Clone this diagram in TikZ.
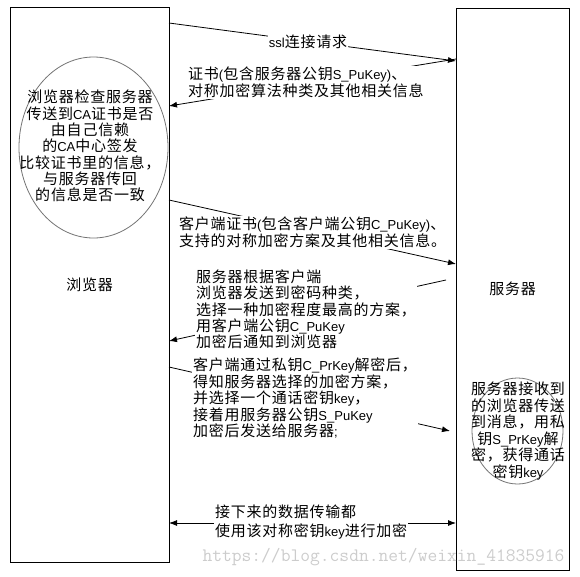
\documentclass[tikz,border=0pt]{standalone}
\usepackage{fontspec}
\setmainfont{Noto Sans CJK SC}[LetterSpace=5]
\newfontfamily\latf{Liberation Sans}
\newcommand\mylat[1]{{\latf\fontsize{13}{16}\selectfont #1}}
\usetikzlibrary{arrows.meta,shapes.geometric}
\definecolor{ovalgray}{RGB}{115,115,115}
\begin{document}
\begin{tikzpicture}[x=1pt,y=-1pt,
  box/.style={draw=black,line width=0.8pt,outer sep=0pt,inner sep=0pt,font=\fontsize{15}{16}\selectfont},
  oval/.style={draw=ovalgray,line width=0.8pt,ellipse,inner sep=0pt,outer sep=0pt},
  txt/.style={font=\fontsize{15}{16.3}\selectfont,inner sep=1pt,fill=white,align=left},
  ctxt/.style={font=\fontsize{15}{16.3}\selectfont,inner sep=0pt,align=center},
  arr/.style={line width=0.8pt,-{Latex[length=8pt,width=6pt]}},
  darr/.style={line width=0.8pt,{Latex[length=8pt,width=6pt]}-{Latex[length=8pt,width=6pt]}},
  wm/.style={text=gray!40,font=\ttfamily\fontsize{19}{19}\selectfont,inner sep=0pt}]
\useasboundingbox (0,0) rectangle (580,576);

% boxes
\node[box,minimum width=159pt,minimum height=555pt] (browser) at (89.5,284.5) {浏览器};
\node[box,minimum width=113pt,minimum height=562pt] (server) at (512.5,289) {服务器};

% ellipses
\node[oval,minimum width=149pt,minimum height=181pt] (lov) at (93.5,147.5) {};
\node[oval,minimum width=91pt,minimum height=106pt] (rov) at (517.5,431) {};

% connector end points
\coordinate (a1) at (browser.east |- 0,23);
\coordinate (b1) at (server.west |- 0,61);
\coordinate (a2) at (server.west |- 0,59);
\coordinate (b2) at (browser.east |- 0,106);
\coordinate (a3) at (browser.east |- 0,200);
\coordinate (b3) at (server.west |- 0,264);
\coordinate (a4) at (446,280);
\coordinate (b4) at (browser.east |- 0,341);
\coordinate (a5) at (browser.east |- 0,367);
\coordinate (b5) at (450,431);
\coordinate (a6) at (browser.east |- 0,523);
\coordinate (b6) at (server.west |- 0,523);

% connectors
\draw[arr] (a1) -- (b1);
\draw[arr] (a2) -- (b2);
\draw[arr] (a3) -- (b3);
\draw[arr] (a4) -- (b4);
\draw[arr] (a5) -- (b5);
\draw[darr] (a6) -- (b6);

% labels
\node[txt] (t1) at (308,42) {\mylat{ssl}连接请求};
\node[txt,anchor=west,font=\fontsize{15}{15}\selectfont] (t2) at (187,82.5)
  {证书\mylat{(}包含服务器公钥\mylat{S\_PuKey)}、\\对称加密算法种类及其他相关信息};
\node[txt,anchor=west,font=\fontsize{15}{17}\selectfont] (t3) at (178,232.5)
  {客户端证书\mylat{(}包含客户端公钥\mylat{C\_PuKey)}、\\支持的对称加密方案及其他相关信息。};
\node[txt,anchor=west] (t4) at (195,309.5)
  {服务器根据客户端\\浏览器发送到密码种类，\\选择一种加密程度最高的方案，\\用客户端公钥\mylat{C\_PuKey}\\加密后通知到浏览器};
\node[txt,anchor=west,font=\fontsize{15}{16.5}\selectfont] (t5) at (192,398)
  {客户端通过私钥\mylat{C\_PrKey}解密后，\\得知服务器选择的加密方案，\\并选择一个通话密钥\mylat{key}，\\接着用服务器公钥\mylat{S\_PuKey}\\加密后发送给服务器\mylat{;}};
\node[txt,anchor=west,font=\fontsize{15}{19}\selectfont] (t6) at (214,522.5)
  {接下来的数据传输都\\使用该对称密钥\mylat{key}进行加密};

\node[ctxt] (ltext) at (90,146)
  {浏览器检查服务器\\传送到\mylat{CA}证书是否\\由自己信赖\\的\mylat{CA}中心签发\\比较证书里的信息，\\与服务器传回\\的信息是否一致};
\node[ctxt,font=\fontsize{15}{16.6}\selectfont] (rtext) at (518,431)
  {服务器接收到\\的浏览器传送\\到消息，用私\\钥\mylat{S\_PrKey}解\\密，获得通话\\密钥\mylat{key}};

% watermark
\node[wm] (wmark) at (383.5,557) {https://blog.csdn.net/weixin\_41835916};
\end{tikzpicture}
\end{document}
